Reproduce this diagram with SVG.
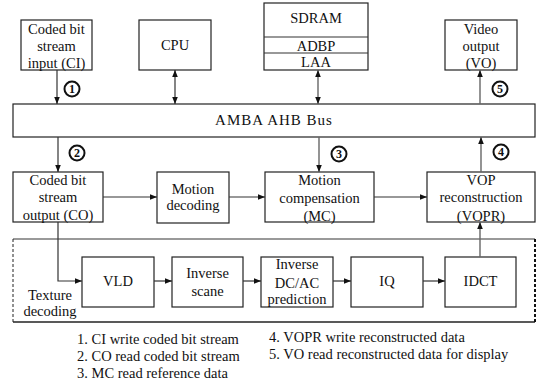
<svg xmlns="http://www.w3.org/2000/svg" width="537" height="385" viewBox="0 0 537 385">
<style>
.box{fill:#fff;stroke:#222;stroke-width:1.2}
.t{font-size:14.5px;fill:#111;text-anchor:middle;font-family:'Liberation Serif',serif !important}
.lg{font-size:14.5px;fill:#111;font-family:'Liberation Serif',serif !important}
.c{fill:#fff;stroke:#111;stroke-width:2}
.n{font-size:12px;font-weight:bold;fill:#111;text-anchor:middle;font-family:'Liberation Serif',serif !important}
.ln{fill:none;stroke:#333;stroke-width:1.2}
.g{fill:none;stroke:#666;stroke-width:1.4}
</style>
<defs>
<marker id="ah" viewBox="0 0 10 10" refX="10" refY="5" markerWidth="7" markerHeight="7" markerUnits="userSpaceOnUse" orient="auto-start-reverse">
<path d="M0,1 L10,5 L0,9 z" fill="#111"/>
</marker>
</defs>
<rect width="537" height="385" fill="#fff"/>

<g id="ci"><rect class="box" x="21" y="20" width="71" height="50"/>
<text class="t" style="font-family:'Liberation Serif',serif" x="56.5" y="34">Coded bit</text><text class="t" style="font-family:'Liberation Serif',serif" x="56.5" y="51">stream</text><text class="t" style="font-family:'Liberation Serif',serif" x="56.5" y="68">input (CI)</text></g>
<g id="cpu"><rect class="box" x="139" y="20" width="72" height="50"/><text class="t" style="font-family:'Liberation Serif',serif" x="175" y="50">CPU</text></g>
<g id="sdram"><rect class="box" x="264" y="3" width="104" height="67"/>
<line class="ln" x1="264" y1="37" x2="368" y2="37"/><line class="ln" x1="264" y1="53" x2="368" y2="53"/>
<text class="t" style="font-family:'Liberation Serif',serif" x="316" y="23">SDRAM</text><text class="t" style="font-family:'Liberation Serif',serif" x="316" y="51">ADBP</text><text class="t" style="font-family:'Liberation Serif',serif" x="316" y="67">LAA</text></g>
<g id="vo"><rect class="box" x="445" y="20" width="72" height="50"/>
<text class="t" style="font-family:'Liberation Serif',serif" x="481" y="34">Video</text><text class="t" style="font-family:'Liberation Serif',serif" x="481" y="51">output</text><text class="t" style="font-family:'Liberation Serif',serif" x="481" y="68">(VO)</text></g>
<g id="bus"><rect class="box" x="13" y="104" width="522" height="33"/>
<text class="t" style="font-family:'Liberation Serif',serif;font-size:15px;letter-spacing:1px" x="274" y="125">AMBA AHB Bus</text></g>
<g id="co"><rect class="box" x="13" y="172" width="90" height="50"/>
<text class="t" style="font-family:'Liberation Serif',serif" x="58" y="185">Coded bit</text><text class="t" style="font-family:'Liberation Serif',serif" x="58" y="202">stream</text><text class="t" style="font-family:'Liberation Serif',serif" x="58" y="220">output (CO)</text></g>
<g id="md"><rect class="box" x="157" y="172" width="72" height="51"/>
<text class="t" style="font-family:'Liberation Serif',serif" x="193" y="194">Motion</text><text class="t" style="font-family:'Liberation Serif',serif" x="193" y="210">decoding</text></g>
<g id="mc"><rect class="box" x="265" y="172" width="109" height="50"/>
<text class="t" style="font-family:'Liberation Serif',serif" x="319.5" y="185">Motion</text><text class="t" style="font-family:'Liberation Serif',serif" x="319.5" y="203">compensation</text><text class="t" style="font-family:'Liberation Serif',serif" x="319.5" y="221">(MC)</text></g>
<g id="vopr"><rect class="box" x="427" y="172" width="108" height="50"/>
<text class="t" style="font-family:'Liberation Serif',serif" x="481" y="185">VOP</text><text class="t" style="font-family:'Liberation Serif',serif" x="481" y="202">reconstruction</text><text class="t" style="font-family:'Liberation Serif',serif" x="481" y="221">(VOPR)</text></g>

<g id="texture">
<line x1="13" y1="239" x2="535" y2="239" stroke="#777" stroke-width="1.5"/>
<line x1="13" y1="322" x2="535" y2="322" stroke="#222" stroke-width="1.4"/>
<line x1="13" y1="239" x2="13" y2="322" stroke="#222" stroke-width="1" stroke-dasharray="3,2"/>
<line x1="535" y1="239" x2="535" y2="322" stroke="#111" stroke-width="2" stroke-dasharray="3,2"/>
<text class="t" style="font-family:'Liberation Serif',serif" x="50" y="300">Texture</text><text class="t" style="font-family:'Liberation Serif',serif" x="50" y="316">decoding</text></g>
<g id="vld"><rect class="box" x="82" y="257" width="72" height="50"/><text class="t" style="font-family:'Liberation Serif',serif" x="118" y="286">VLD</text></g>
<g id="iscan"><rect class="box" x="172" y="257" width="71" height="50"/>
<text class="t" style="font-family:'Liberation Serif',serif" x="207.5" y="278">Inverse</text><text class="t" style="font-family:'Liberation Serif',serif" x="207.5" y="296">scane</text></g>
<g id="idcac"><rect class="box" x="261" y="257" width="72" height="50"/>
<text class="t" style="font-family:'Liberation Serif',serif" x="297" y="269">Inverse</text><text class="t" style="font-family:'Liberation Serif',serif" x="297" y="288">DC/AC</text><text class="t" style="font-family:'Liberation Serif',serif" x="297" y="304">prediction</text></g>
<g id="iq"><rect class="box" x="351" y="257" width="72" height="50"/><text class="t" style="font-family:'Liberation Serif',serif" x="387" y="286">IQ</text></g>
<g id="idct"><rect class="box" x="445" y="257" width="71" height="50"/><text class="t" style="font-family:'Liberation Serif',serif" x="480.5" y="286">IDCT</text></g>

<g id="connectors">
<line class="ln" x1="57" y1="70" x2="57" y2="104" marker-end="url(#ah)"/>
<line class="ln" x1="175" y1="70" x2="175" y2="104" marker-start="url(#ah)" marker-end="url(#ah)"/>
<line class="g" x1="318" y1="70" x2="318" y2="104" marker-start="url(#ah)" marker-end="url(#ah)"/>
<line class="g" x1="480" y1="104" x2="480" y2="70" marker-end="url(#ah)"/>
<line class="ln" x1="58" y1="137" x2="58" y2="172" marker-end="url(#ah)"/>
<line class="g" x1="319" y1="137" x2="319" y2="172" marker-end="url(#ah)"/>
<line class="g" x1="481" y1="172" x2="481" y2="137" marker-end="url(#ah)"/>
<line class="ln" x1="103" y1="197" x2="157" y2="197" marker-end="url(#ah)"/>
<line class="ln" x1="229" y1="197" x2="265" y2="197" marker-end="url(#ah)"/>
<line class="ln" x1="374" y1="197" x2="427" y2="197" marker-end="url(#ah)"/>
<polyline class="ln" points="58,222 58,281 82,281" marker-end="url(#ah)"/>
<line class="ln" x1="154" y1="281" x2="172" y2="281" marker-end="url(#ah)"/>
<line class="ln" x1="243" y1="281" x2="261" y2="281" marker-end="url(#ah)"/>
<line class="ln" x1="333" y1="281" x2="351" y2="281" marker-end="url(#ah)"/>
<line class="ln" x1="423" y1="281" x2="445" y2="281" marker-end="url(#ah)"/>
<line class="g" x1="480" y1="257" x2="480" y2="222" marker-end="url(#ah)"/>
</g>

<g id="labels">
<circle class="c" cx="72" cy="89" r="7.5"/><text class="n" style="font-family:'Liberation Serif',serif" x="72" y="93">1</text>
<circle class="c" cx="77" cy="153" r="7.5"/><text class="n" style="font-family:'Liberation Serif',serif" x="77" y="157">2</text>
<circle class="c" cx="339" cy="154" r="7.5"/><text class="n" style="font-family:'Liberation Serif',serif" x="339" y="158">3</text>
<circle class="c" cx="501" cy="152" r="7.5"/><text class="n" style="font-family:'Liberation Serif',serif" x="501" y="156">4</text>
<circle class="c" cx="500" cy="89" r="7.5"/><text class="n" style="font-family:'Liberation Serif',serif" x="500" y="93">5</text>
</g>

<g id="legend">
<text class="lg" style="font-family:'Liberation Serif',serif" x="77" y="344">1. CI write coded bit stream</text>
<text class="lg" style="font-family:'Liberation Serif',serif" x="77" y="361">2. CO read coded bit stream</text>
<text class="lg" style="font-family:'Liberation Serif',serif" x="77" y="378">3. MC read reference data</text>
<text class="lg" style="font-family:'Liberation Serif',serif" x="269" y="342">4. VOPR write reconstructed data</text>
<text class="lg" style="font-family:'Liberation Serif',serif" x="269" y="359">5. VO read reconstructed data for display</text>
</g>
</svg>
